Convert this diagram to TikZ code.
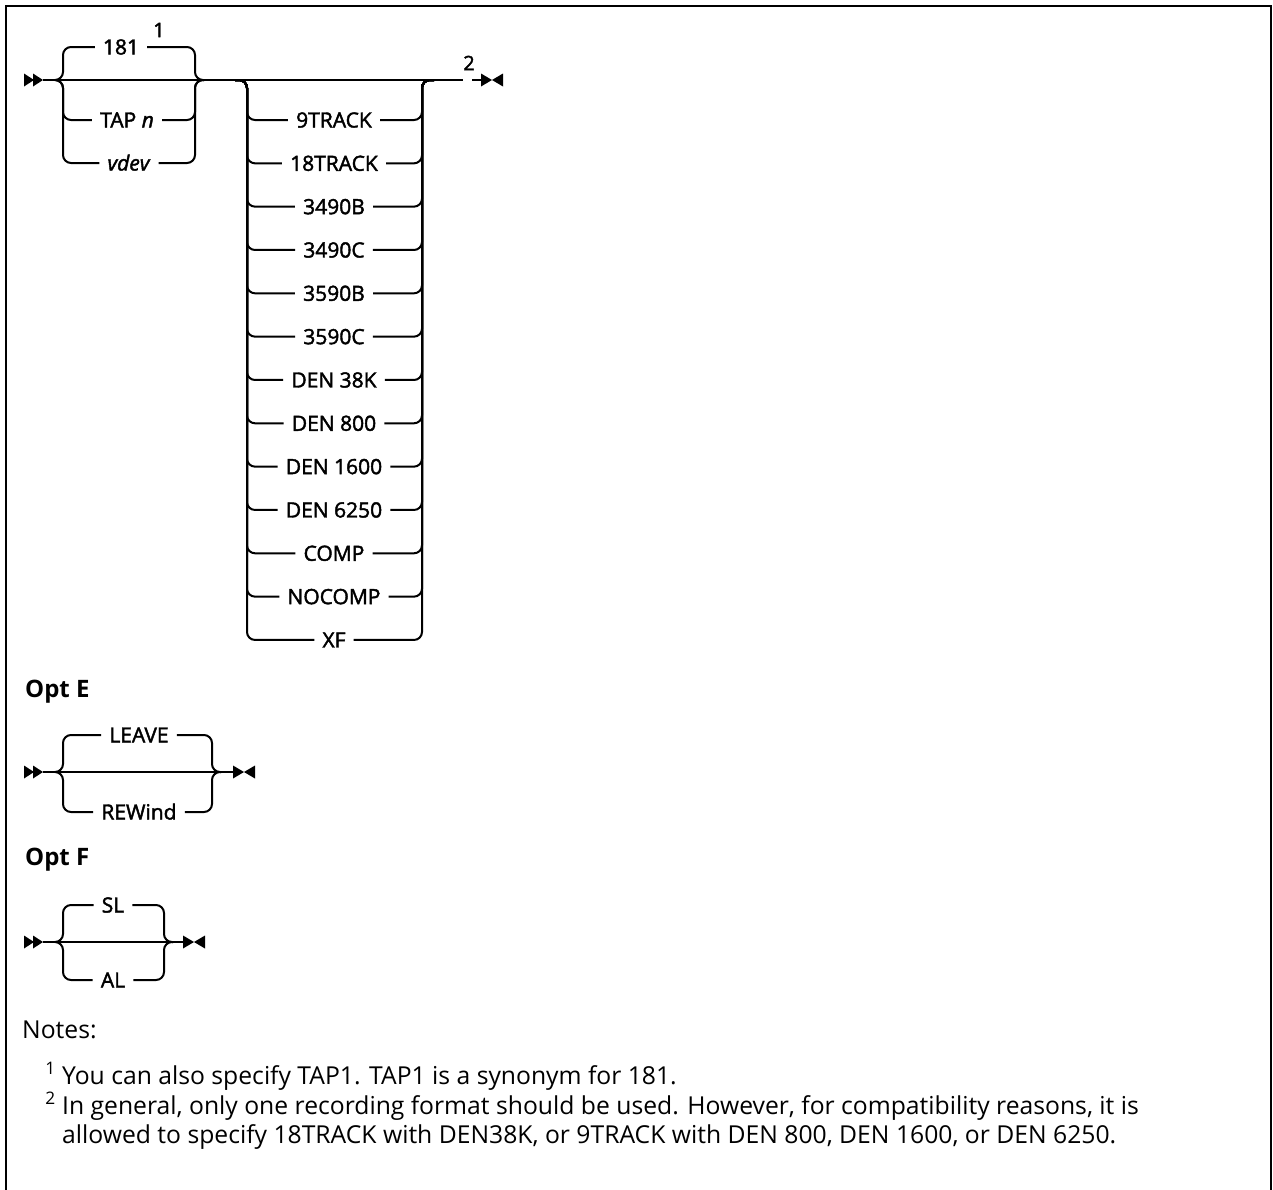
\documentclass[tikz,border=0pt]{standalone}
\usepackage{fontspec}
\setmainfont{Open Sans}
\newfontfamily\railfont{Open Sans}[FakeBold=2]
\usepackage{tikz}
\usetikzlibrary{calc}
\tikzset{
  rail/.style={line width=2pt,rounded corners=8pt},
  choice/.style={inner xsep=8pt,inner ysep=0pt,text height=15pt,text depth=0pt,font=\railfont\fontsize{21}{25}\selectfont},
  heading/.style={anchor=base west,inner sep=0pt,font=\fontsize{24}{28}\selectfont\bfseries},
  notetext/.style={anchor=base west,inner sep=0pt,font=\fontsize{24.7}{29}\selectfont},
  fnmark/.style={inner sep=0pt,font=\railfont\fontsize{20}{22}\selectfont},
  frame/.style={line width=2.6pt,line join=miter},
  pics/railstart/.style={code={
    \fill (0,-6.5) -- (10,0) -- (0,6.5) -- cycle;
    \fill (9,-6.5) -- (19,0) -- (9,6.5) -- cycle;}},
  pics/railend/.style={code={
    \fill (0,-6.5) -- (11,0) -- (0,6.5) -- cycle;
    \fill (22,-6.5) -- (11,0) -- (22,6.5) -- cycle;}}
}

\begin{document}
\begin{tikzpicture}[x=1pt,y=-1pt]
  \useasboundingbox (0,0) rectangle (1273,1189);
  \draw[frame] (6,1200) -- (6,6) -- (1271,6) -- (1271,1200);

  % Main syntax line
  \pic at (24,80) {railstart};
  \coordinate (m0) at (43,80);
  \coordinate (m1) at (463,80);
  \coordinate (m2) at (472,80);
  \coordinate (m3) at (481,80);
  \draw[rail] (m0) -- (m1);
  \draw[rail] (m2) -- (m3);
  \node[fnmark] (fn2) at (469,63) {2};
  \pic at (m3) {railend};

  % Device choice
  \coordinate (a1) at (55,80);
  \coordinate (l1) at (63,80);
  \coordinate (r1) at (195,80);
  \coordinate (a2) at (204,80);
  \node[choice] (d181) at (121,47) {181};
  \node[fnmark] (fn1) at (159,30) {1};
  \node[choice] (dtap) at (127,120) {TAP \textit{n}};
  \node[choice] (dvdev) at (129,163) {\textit{vdev}};
  \foreach \n in {d181,dtap,dvdev}{
    \draw[rail] (a1) -- (l1) -- (l1 |- \n.west) -- (\n.west);
    \draw[rail] (\n.east) -- (r1 |- \n.east) -- (r1) -- (a2);
  }

  % Recording formats
  \coordinate (b1) at (235,80);
  \coordinate (l2) at (247,80);
  \coordinate (r2) at (422,80);
  \coordinate (b2) at (434,80);
  \foreach \t [count=\i from 0] in {9TRACK,18TRACK,3490B,3490C,3590B,3590C,DEN 38K,DEN 800,DEN 1600,DEN 6250,COMP,NOCOMP,XF}{
    \node[choice] (fmt\i) at (334,120+43.33*\i) {\t};
    \draw[rail] (b1) -- (l2) -- (l2 |- fmt\i.west) -- (fmt\i.west);
    \draw[rail] (fmt\i.east) -- (r2 |- fmt\i.east) -- (r2) -- (b2);
  }

  % Opt E
  \node[heading] (opte) at (25,697) {Opt E};
  \pic at (24,772) {railstart};
  \coordinate (e0) at (43,772);
  \coordinate (e1) at (55,772);
  \coordinate (el) at (63,772);
  \coordinate (er) at (212,772);
  \coordinate (e2) at (221,772);
  \coordinate (e3) at (233,772);
  \draw[rail] (e0) -- (e3);
  \node[choice] (leave) at (139,735) {LEAVE};
  \node[choice] (rewind) at (139,812) {REWind};
  \foreach \n in {leave,rewind}{
    \draw[rail] (e1) -- (el) -- (el |- \n.west) -- (\n.west);
    \draw[rail] (\n.east) -- (er |- \n.east) -- (er) -- (e2);
  }
  \pic at (e3) {railend};

  % Opt F
  \node[heading] (optf) at (25,865) {Opt F};
  \pic at (24,942) {railstart};
  \coordinate (f0) at (43,942);
  \coordinate (f1) at (55,942);
  \coordinate (fl) at (63,942);
  \coordinate (fr) at (164,942);
  \coordinate (f2) at (173,942);
  \coordinate (f3) at (183,942);
  \draw[rail] (f0) -- (f3);
  \node[choice] (sl) at (113,905) {SL};
  \node[choice] (al) at (113,980) {AL};
  \foreach \n in {sl,al}{
    \draw[rail] (f1) -- (fl) -- (fl |- \n.west) -- (\n.west);
    \draw[rail] (\n.east) -- (fr |- \n.east) -- (fr) -- (f2);
  }
  \pic at (f3) {railend};

  % Notes
  \node[notetext] (notes) at (22,1038) {Notes:};
  \node[notetext] (note1) at (62,1084) {\llap{\textsuperscript{1}\ }You can also specify TAP1. TAP1 is a synonym for 181.};
  \node[notetext] (note2) at (62,1114) {\llap{\textsuperscript{2}\ }In general, only one recording format should be used. However, for compatibility reasons, it is};
  \node[notetext] (note2b) at (62,1143) {allowed to specify 18TRACK with DEN38K, or 9TRACK with DEN 800, DEN 1600, or DEN 6250.};
\end{tikzpicture}
\end{document}
